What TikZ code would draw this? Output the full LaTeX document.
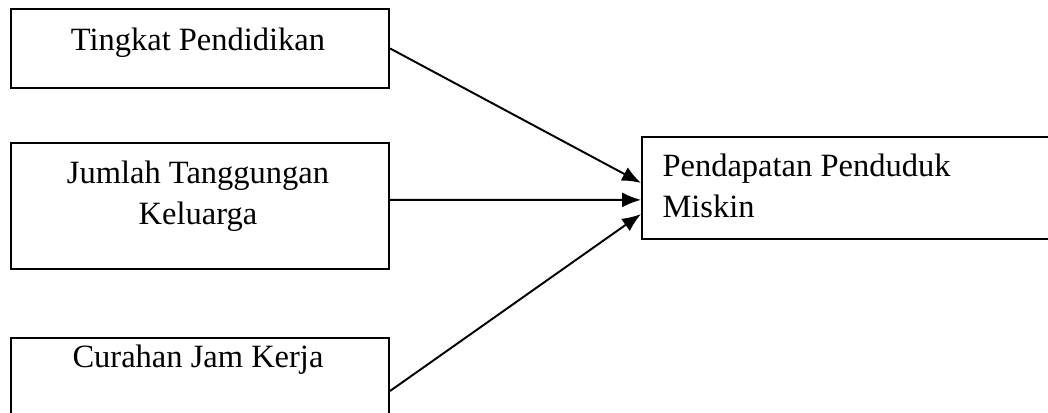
\documentclass[tikz,border=0pt]{standalone}
\usepackage{fontspec}
\setmainfont{Liberation Serif}
\usetikzlibrary{arrows.meta}

\tikzset{
  box/.style={draw, line width=0.7pt, inner sep=0pt, anchor=north west},
  lbl/.style={font=\fontsize{11.7}{15.1}\selectfont, inner sep=0pt, anchor=base},
  link/.style={line width=0.7pt, -{Latex[length=6.8pt,width=5.4pt]}}
}

\begin{document}
\begin{tikzpicture}[x=0.36pt, y=-0.36pt]
  \useasboundingbox (0,0) rectangle (1048,413);
  \clip (0,0) rectangle (1048,413);

  %%%%% boxes
  \node[box, minimum width=136.1pt, minimum height=28.4pt] (tp) at (10,8) {};
  \node[box, minimum width=136.1pt, minimum height=45.4pt] (jt) at (10,142) {};
  \node[box, minimum width=136.1pt, minimum height=38.2pt] (cj) at (10,337) {};
  \node[box, minimum width=154.8pt, minimum height=36.7pt] (pp) at (641,136) {};

  %%%%% texts (multi-line: base is the last line)
  \node[lbl] (tptext) at (198,51) {Tingkat Pendidikan};
  \node[lbl, align=center] (jttext) at (198,225) {Jumlah Tanggungan\\Keluarga};
  \node[lbl] (cjtext) at (198,368) {Curahan Jam Kerja};
  \node[lbl, anchor=base west, align=left] (pptext) at (662,218) {Pendapatan Penduduk\\Miskin};

  %%%%% arrows
  \draw[link] (tp.east) -- ([yshift=1.8pt]pp.west);
  \draw[link] ([yshift=2.2pt]jt.east) -- ([yshift=-4.3pt]pp.west);
  \draw[link] (cj.east) -- ([yshift=-9.4pt]pp.west);
\end{tikzpicture}
\end{document}
